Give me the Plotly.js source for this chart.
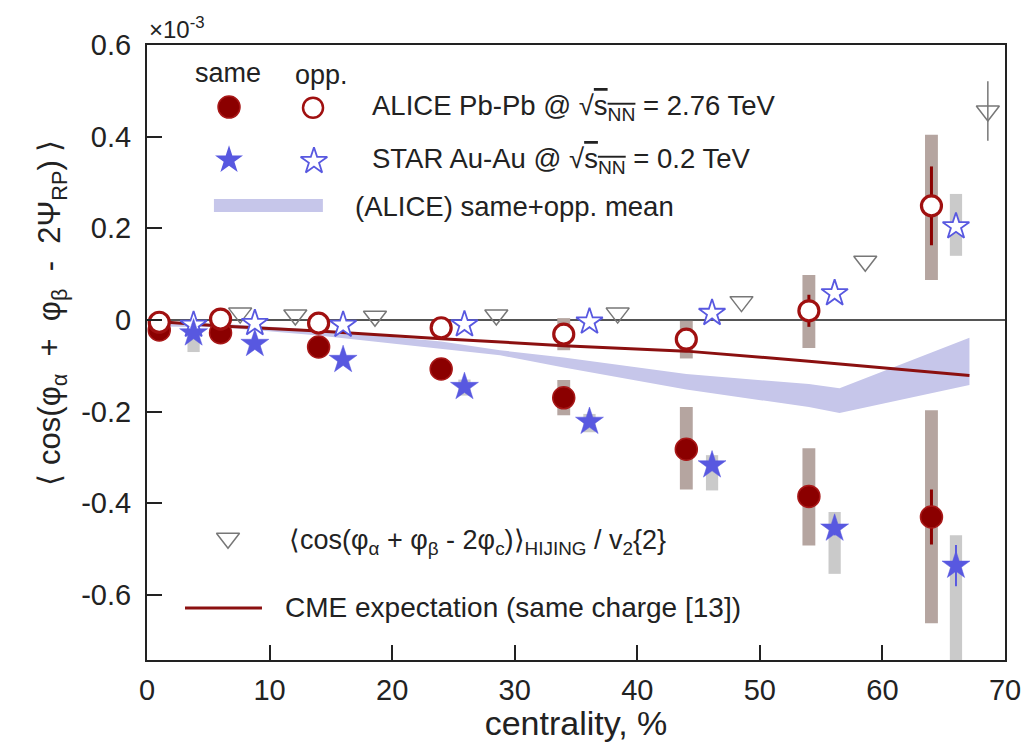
<!DOCTYPE html>
<html><head><meta charset="utf-8">
<script src="https://cdn.plot.ly/plotly-3.0.1.min.js"></script>
<style>html,body{margin:0;padding:0;background:#fff}#chart{width:1026px;height:742px}</style>
</head><body><div id="chart"></div>
<script>
// ---- data (values in units of 1e-3) ----
const aliceX = [1, 6, 14, 24, 34, 44, 54, 64];
const aliceSame = [-0.022, -0.028, -0.059, -0.107, -0.170, -0.282, -0.385, -0.430];
const aliceSameStat = [0.004, 0.004, 0.005, 0.007, 0.010, 0.018, 0.025, 0.060];
const aliceSameSysLo = [-0.030, -0.036, -0.066, -0.118, -0.208, -0.370, -0.492, -0.662];
const aliceSameSysHi = [-0.014, -0.020, -0.052, -0.096, -0.131, -0.190, -0.280, -0.197];
const aliceOpp = [-0.005, 0.002, -0.007, -0.017, -0.031, -0.042, 0.020, 0.249];
const aliceOppStat = [0.004, 0.004, 0.005, 0.006, 0.010, 0.015, 0.035, 0.086];
const aliceOppSysLo = [-0.012, -0.006, -0.014, -0.030, -0.066, -0.084, -0.061, 0.087];
const aliceOppSysHi = [0.002, 0.010, 0.000, -0.004, 0.004, -0.002, 0.098, 0.404];

const starX = [3.8, 8.8, 16.0, 25.9, 36.1, 46.1, 56.1, 66.0];
const starSame = [-0.029, -0.052, -0.087, -0.146, -0.222, -0.317, -0.455, -0.536];
const starSameStat = [0.003, 0.003, 0.004, 0.005, 0.008, 0.010, 0.015, 0.045];
const starSameSysLo = [-0.070, -0.060, -0.095, -0.165, -0.245, -0.372, -0.554, -0.760];
const starSameSysHi = [-0.022, -0.045, -0.080, -0.130, -0.205, -0.295, -0.419, -0.470];
const starOpp = [-0.011, -0.007, -0.011, -0.010, -0.004, 0.015, 0.058, 0.204];
const starOppSysLo = [-0.016, -0.012, -0.016, -0.015, -0.010, 0.008, 0.048, 0.140];
const starOppSysHi = [-0.006, -0.002, -0.006, -0.005, 0.002, 0.022, 0.068, 0.275];

const hijingX = [7.6, 12.1, 18.6, 28.5, 38.4, 48.5, 58.6, 68.6];
const hijingY = [0.015, 0.011, 0.008, 0.011, 0.015, 0.040, 0.128, 0.456];
const hijingErr = [0, 0, 0, 0, 0, 0, 0, 0.065];

const bandX = [1, 6, 14, 24, 28.8, 34, 44, 54, 56.5, 67.1];
const bandHi = [-0.006, -0.008, -0.022, -0.047, -0.066, -0.082, -0.118, -0.140, -0.149, -0.039];
const bandLo = [-0.014, -0.016, -0.034, -0.063, -0.077, -0.104, -0.152, -0.190, -0.203, -0.142];

const cmeX = [0.5, 6, 14, 24, 34, 44, 54, 64, 67.1];
const cmeY = [-0.003, -0.013, -0.024, -0.041, -0.056, -0.068, -0.090, -0.113, -0.121];

const xTickVals = [0, 10, 20, 30, 40, 50, 60, 70];
const xTickText = ['0', '10', '20', '30', '40', '50', '60', '70'];
const yTickVals = [-0.6, -0.4, -0.2, 0, 0.2, 0.4, 0.6];
const yTickText = ['-0.6', '-0.4', '-0.2', '0', '0.2', '0.4', '0.6'];

// ---- styles ----
const FONT = 'Liberation Sans, Arial, sans-serif';
const RED = '#8b0000';
const BLUE = '#5858e0';
const aliceSys = '#b5a5a0';
const starSys = '#cacaca';
const bandCol = '#c6c6ea';
const NB = '\u00A0';

const diff = (hi, lo) => hi.map((h, i) => h - lo[i]);

const traces = [
  {type:'bar', x: starX, base: starSameSysLo, y: diff(starSameSysHi, starSameSysLo), width: 1.0,
   marker:{color: starSys}, hoverinfo:'skip', showlegend:false},
  {type:'bar', x: starX, base: starOppSysLo, y: diff(starOppSysHi, starOppSysLo), width: 1.0,
   marker:{color: starSys}, hoverinfo:'skip', showlegend:false},
  {type:'bar', x: aliceX, base: aliceSameSysLo, y: diff(aliceSameSysHi, aliceSameSysLo), width: 1.05,
   marker:{color: aliceSys}, hoverinfo:'skip', showlegend:false},
  {type:'bar', x: aliceX, base: aliceOppSysLo, y: diff(aliceOppSysHi, aliceOppSysLo), width: 1.05,
   marker:{color: aliceSys}, hoverinfo:'skip', showlegend:false},
  {type:'scatter', mode:'lines', x: bandX, y: bandHi, line:{width:0, color: bandCol}, showlegend:false, hoverinfo:'skip'},
  {type:'scatter', mode:'lines', x: bandX, y: bandLo, line:{width:0, color: bandCol}, fill:'tonexty', fillcolor: bandCol, showlegend:false, hoverinfo:'skip'},
  {type:'scatter', mode:'lines', x: cmeX, y: cmeY, line:{width:3, color: '#8b1010'}, showlegend:false},
  {type:'scatter', mode:'markers', x: hijingX, y: hijingY,
   error_y:{type:'data', array: hijingErr, color:'#777', thickness:1.5, width:0},
   marker:{symbol:'triangle-down-open', size:20, color:'#777', line:{width:1.5, color:'#777'}}, showlegend:false},
  {type:'scatter', mode:'markers', x: starX, y: starOpp,
   marker:{symbol:'star', size:20, color:'#ffffff', line:{width:1.8, color: BLUE}}, showlegend:false},
  {type:'scatter', mode:'markers', x: starX, y: starSame,
   error_y:{type:'data', array: starSameStat, color: BLUE, thickness:2, width:0},
   marker:{symbol:'star', size:21, color: BLUE, line:{width:0.5, color: BLUE}}, showlegend:false},
  {type:'scatter', mode:'markers', x: aliceX, y: aliceSame,
   error_y:{type:'data', array: aliceSameStat, color: RED, thickness:3, width:0},
   marker:{symbol:'circle', size:22, color: RED, line:{width:1.5, color:'#a81818'}}, showlegend:false},
  {type:'scatter', mode:'markers', x: aliceX, y: aliceOpp,
   error_y:{type:'data', array: aliceOppStat, color: RED, thickness:3, width:0},
   marker:{symbol:'circle', size:20, color:'#ffffff', line:{width:3.2, color:'#a01010'}}, showlegend:false},
  // legend keys (overlay axes in plot-fraction coordinates)
  {type:'scatter', mode:'markers', x:[0.0956], y:[0.899], xaxis:'x2', yaxis:'y2',
   marker:{symbol:'circle', size:22, color: RED, line:{width:1.5, color:'#a81818'}}, showlegend:false, hoverinfo:'skip'},
  {type:'scatter', mode:'markers', x:[0.1935], y:[0.898], xaxis:'x2', yaxis:'y2',
   marker:{symbol:'circle', size:20, color:'#ffffff', line:{width:2.5, color:'#a01010'}}, showlegend:false, hoverinfo:'skip'},
  {type:'scatter', mode:'markers', x:[0.0956], y:[0.813], xaxis:'x2', yaxis:'y2',
   marker:{symbol:'star', size:21, color: BLUE}, showlegend:false, hoverinfo:'skip'},
  {type:'scatter', mode:'markers', x:[0.1946], y:[0.811], xaxis:'x2', yaxis:'y2',
   marker:{symbol:'star', size:20, color:'#ffffff', line:{width:1.8, color: BLUE}}, showlegend:false, hoverinfo:'skip'},
  {type:'scatter', mode:'markers', x:[0.0944], y:[0.198], xaxis:'x2', yaxis:'y2',
   marker:{symbol:'triangle-down-open', size:20, color:'#777', line:{width:1.5, color:'#777'}}, showlegend:false, hoverinfo:'skip'}
];

const ann = (text, x, y, size, xanchor) => ({text, x, y, xref:'paper', yref:'paper', xanchor: xanchor || 'left', yanchor:'middle',
  showarrow:false, font:{family: FONT, size: size, color:'#222'}});

const rootS = '√<span style="text-decoration:overline">s<sub>NN</sub></span>';
const yTitle = '⟨' + NB + 'cos(φ<sub>α</sub>' + NB + NB + '+' + NB + NB + 'φ<sub>β</sub>' + NB + NB + '-' + NB + NB + '2Ψ<sub>RP</sub>)' + NB + '⟩';

const layout = {
  width: 1026, height: 742,
  margin: {l:147, r:21, t:45, b:82},
  paper_bgcolor:'#fff', plot_bgcolor:'#fff',
  barmode:'overlay',
  showlegend:false,
  font:{family: FONT, color:'#222'},
  xaxis: {range:[0,70], tickvals: xTickVals, ticktext: xTickText, ticks:'inside', ticklen:15, tickwidth:2, tickcolor:'#222',
    showline:true, linewidth:2, linecolor:'#222', mirror:true, showgrid:false, zeroline:false,
    tickfont:{size:29, family: FONT, color:'#222'}, ticklabelstandoff: 3,
    title:{text:'centrality, %', font:{size:34, family: FONT, color:'#222'}, standoff: 13}},
  yaxis: {range:[-0.742, 0.6], tickvals: yTickVals, ticktext: yTickText, ticks:'inside', ticklen:15, tickwidth:2, tickcolor:'#222',
    showline:true, linewidth:2, linecolor:'#222', mirror:true, showgrid:false,
    zeroline:true, zerolinecolor:'#555', zerolinewidth:2,
    tickfont:{size:29, family: FONT, color:'#222'}, ticklabelstandoff: 8},
  xaxis2: {overlaying:'x', range:[0,1], visible:false, fixedrange:true},
  yaxis2: {overlaying:'y', range:[0,1], visible:false, fixedrange:true},
  shapes: [
    {type:'rect', xref:'paper', yref:'paper', x0:0.078, x1:0.205, y0:0.7285, y1:0.7496, fillcolor: bandCol, line:{width:0}},
    {type:'line', xref:'paper', yref:'paper', x0:0.0443, x1:0.134, y0:0.0846, y1:0.0846, line:{color:'#8b1010', width:3}}
  ],
  annotations: [
    {text: yTitle, x:-0.1107, y:0.565, xref:'paper', yref:'paper', xanchor:'center', yanchor:'middle', textangle:-90,
     showarrow:false, font:{family: FONT, size:31, color:'#222'}},
    ann('×10<sup>-3</sup>', 0.0, 1.028, 24),
    ann('same', 0.0944, 0.955, 27, 'center'),
    ann('opp.', 0.2028, 0.951, 27, 'center'),
    ann('ALICE Pb-Pb @ ' + rootS + ' = 2.76 TeV', 0.26, 0.899, 27.5),
    ann('STAR Au-Au @ ' + rootS + ' = 0.2 TeV', 0.26, 0.813, 27.5),
    ann('(ALICE) same+opp. mean', 0.240, 0.738, 27.5),
    ann('⟨cos(φ<sub>α</sub> + φ<sub>β</sub> - 2φ<sub>c</sub>)⟩<sub>HIJING</sub> / v<sub>2</sub>{2}', 0.163, 0.192, 27),
    ann('CME expectation (same charge [13])', 0.1585, 0.0846, 28)
  ]
};

Plotly.newPlot('chart', traces, layout, {displayModeBar:false, staticPlot:true});
</script>
</body></html>
